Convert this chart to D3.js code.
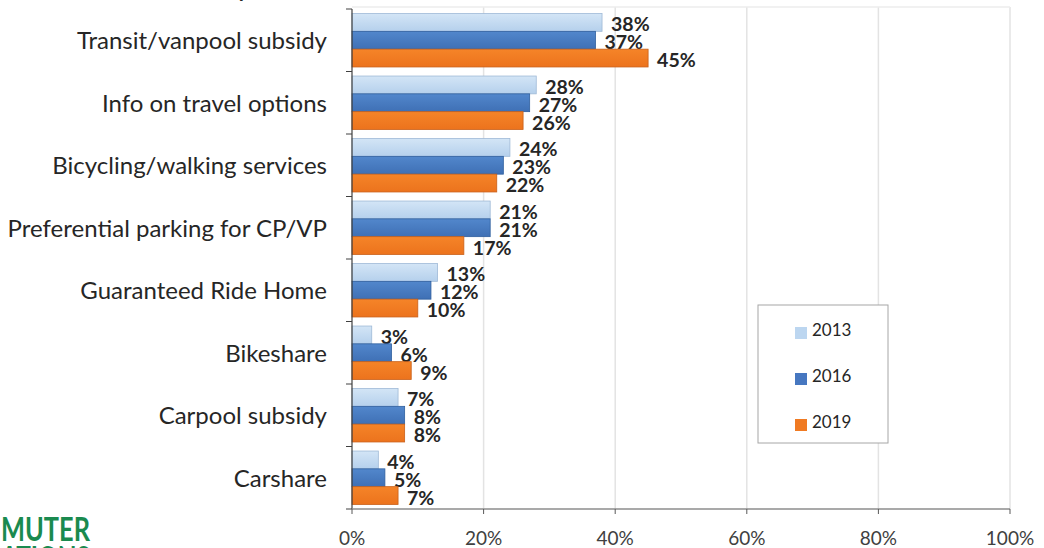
<!DOCTYPE html>
<meta charset="utf-8">
<style>
body { margin: 0; background: #fff; }
text { font-family: Lato, "Open Sans", sans-serif; }
.cat text { font-size: 24px; fill: #262626; }
.xaxis text { font-size: 19px; fill: #404040; }
.val { font-size: 19.5px; font-weight: bold; fill: #262626; }
.legend text { font-size: 17px; fill: #262626; }
</style>
<svg width="1044" height="548"></svg>
<script src="https://d3js.org/d3.v7.min.js"></script>
<script>

var categories = ["Transit/vanpool subsidy", "Info on travel options", "Bicycling/walking services",
  "Preferential parking for CP/VP", "Guaranteed Ride Home", "Bikeshare", "Carpool subsidy", "Carshare"];
var years = ["2013", "2016", "2019"];
var v2013 = [38, 28, 24, 21, 13, 3, 7, 4];
var v2016 = [37, 27, 23, 21, 12, 6, 8, 5];
var v2019 = [45, 26, 22, 17, 10, 9, 8, 7];
var xTicks = [0, 20, 40, 60, 80, 100];

var series = [v2013, v2016, v2019];
var fills = ["url(#g2013)", "url(#g2016)", "url(#g2019)"];
var swatch = ["#bcd6f0", "#4677c0", "#f07a22"];
var edges = ["#9fb9d6", "#2f5f9e", "#c9601a"];

var svg = d3.select("svg");
var plotL = 352, plotR = 1010, plotT = 9, plotB = 509;

var x = d3.scaleLinear().domain([0, 100]).range([plotL, plotR]);
var y = d3.scaleBand().domain(categories).range([plotT, plotB]).paddingInner(0.145).paddingOuter(0.0725);
var yy = d3.scaleBand().domain(years).range([0, y.bandwidth()]);

// gradients
var defs = svg.append("defs");
function grad(id, c1, c2) {
  var g = defs.append("linearGradient").attr("id", id).attr("x1", 0).attr("x2", 0).attr("y1", 0).attr("y2", 1);
  g.append("stop").attr("offset", "0%").attr("stop-color", c1);
  g.append("stop").attr("offset", "100%").attr("stop-color", c2);
}
grad("g2013", "#d3e5f6", "#b5d0ec");
grad("g2016", "#5287cc", "#3f70b5");
grad("g2019", "#f58428", "#ec731d");

// gridlines
svg.append("g").selectAll("line")
  .data(xTicks.slice(1))
  .enter().append("line")
    .attr("x1", function(d) { return x(d); })
    .attr("x2", function(d) { return x(d); })
    .attr("y1", plotT - 2).attr("y2", plotB)
    .attr("stroke", "#e3e3e3").attr("stroke-width", 1.5);
svg.append("line")
  .attr("x1", plotL).attr("x2", plotR).attr("y1", plotT - 2).attr("y2", plotT - 2)
  .attr("stroke", "#ececec").attr("stroke-width", 1.5);

// bars
var groups = svg.append("g").selectAll("g")
  .data(categories)
  .enter().append("g")
    .attr("transform", function(d) { return "translate(0," + y(d) + ")"; });

years.forEach(function(yr, k) {
  groups.append("rect")
    .attr("x", plotL)
    .attr("y", yy(yr))
    .attr("width", function(d, i) { return x(series[k][i]) - plotL; })
    .attr("height", yy.bandwidth())
    .attr("fill", fills[k])
    .attr("stroke", edges[k])
    .attr("stroke-width", 0.8);
  groups.append("text")
    .attr("class", "val")
    .attr("x", function(d, i) { return x(series[k][i]) + 9; })
    .attr("y", yy(yr) + yy.bandwidth() / 2 + 9)
    .text(function(d, i) { return series[k][i] + "%"; });
});

// y axis
var ya = svg.append("g").attr("class", "cat");
ya.append("line").attr("x1", plotL).attr("x2", plotL).attr("y1", plotT).attr("y2", plotB)
  .attr("stroke", "#404040").attr("stroke-width", 1.2);
ya.selectAll("line.t")
  .data(d3.range(categories.length + 1))
  .enter().append("line")
    .attr("class", "t")
    .attr("x1", plotL - 6).attr("x2", plotL)
    .attr("y1", function(i) { return plotT + i * (plotB - plotT) / categories.length; })
    .attr("y2", function(i) { return plotT + i * (plotB - plotT) / categories.length; })
    .attr("stroke", "#404040");
ya.selectAll("text")
  .data(categories)
  .enter().append("text")
    .attr("x", 327)
    .attr("y", function(d) { return y(d) + y.bandwidth() / 2 + 9; })
    .attr("text-anchor", "end")
    .text(function(d) { return d; });

// x axis
var xa = svg.append("g").attr("class", "xaxis");
xa.append("line").attr("x1", plotL).attr("x2", plotR).attr("y1", plotB).attr("y2", plotB)
  .attr("stroke", "#8c8c8c").attr("stroke-width", 1.5);
xa.selectAll("line.t")
  .data(xTicks)
  .enter().append("line")
    .attr("class", "t")
    .attr("x1", function(d) { return x(d); }).attr("x2", function(d) { return x(d); })
    .attr("y1", plotB).attr("y2", plotB + 5)
    .attr("stroke", "#595959");
xa.selectAll("text")
  .data(xTicks)
  .enter().append("text")
    .attr("x", function(d) { return x(d); })
    .attr("y", 545)
    .attr("text-anchor", "middle")
    .text(function(d) { return d + "%"; });

// legend
var lg = svg.append("g").attr("class", "legend");
lg.append("rect").attr("x", 758).attr("y", 305).attr("width", 130).attr("height", 138)
  .attr("fill", "#fff").attr("stroke", "#a6a6a6");
years.forEach(function(yr, k) {
  var cy = 333 + k * 46;
  lg.append("rect").attr("x", 795).attr("y", cy - 6).attr("width", 12).attr("height", 12)
    .attr("fill", swatch[k]);
  lg.append("text").attr("x", 812).attr("y", cy + 3).text(yr);
});

// cropped title and logo remnants
svg.append("text").attr("x", 236).attr("y", -4).attr("font-size", 30).attr("fill", "#262626").text("y");
svg.append("text")
  .attr("x", 1).attr("y", 541)
  .attr("font-family", "'Liberation Sans Narrow', 'DejaVu Sans Condensed', sans-serif")
  .attr("font-weight", "bold").attr("font-size", 32).attr("fill", "#1a8a4f")
  .attr("textLength", 89).attr("lengthAdjust", "spacingAndGlyphs")
  .text("MUTER");
svg.append("text")
  .attr("x", 1).attr("y", 570)
  .attr("font-family", "'Liberation Sans Narrow', 'DejaVu Sans Condensed', sans-serif")
  .attr("font-weight", "bold").attr("font-size", 32).attr("fill", "#1a8a4f")
  .attr("textLength", 89).attr("lengthAdjust", "spacingAndGlyphs")
  .text("ATIONS");
</script>
